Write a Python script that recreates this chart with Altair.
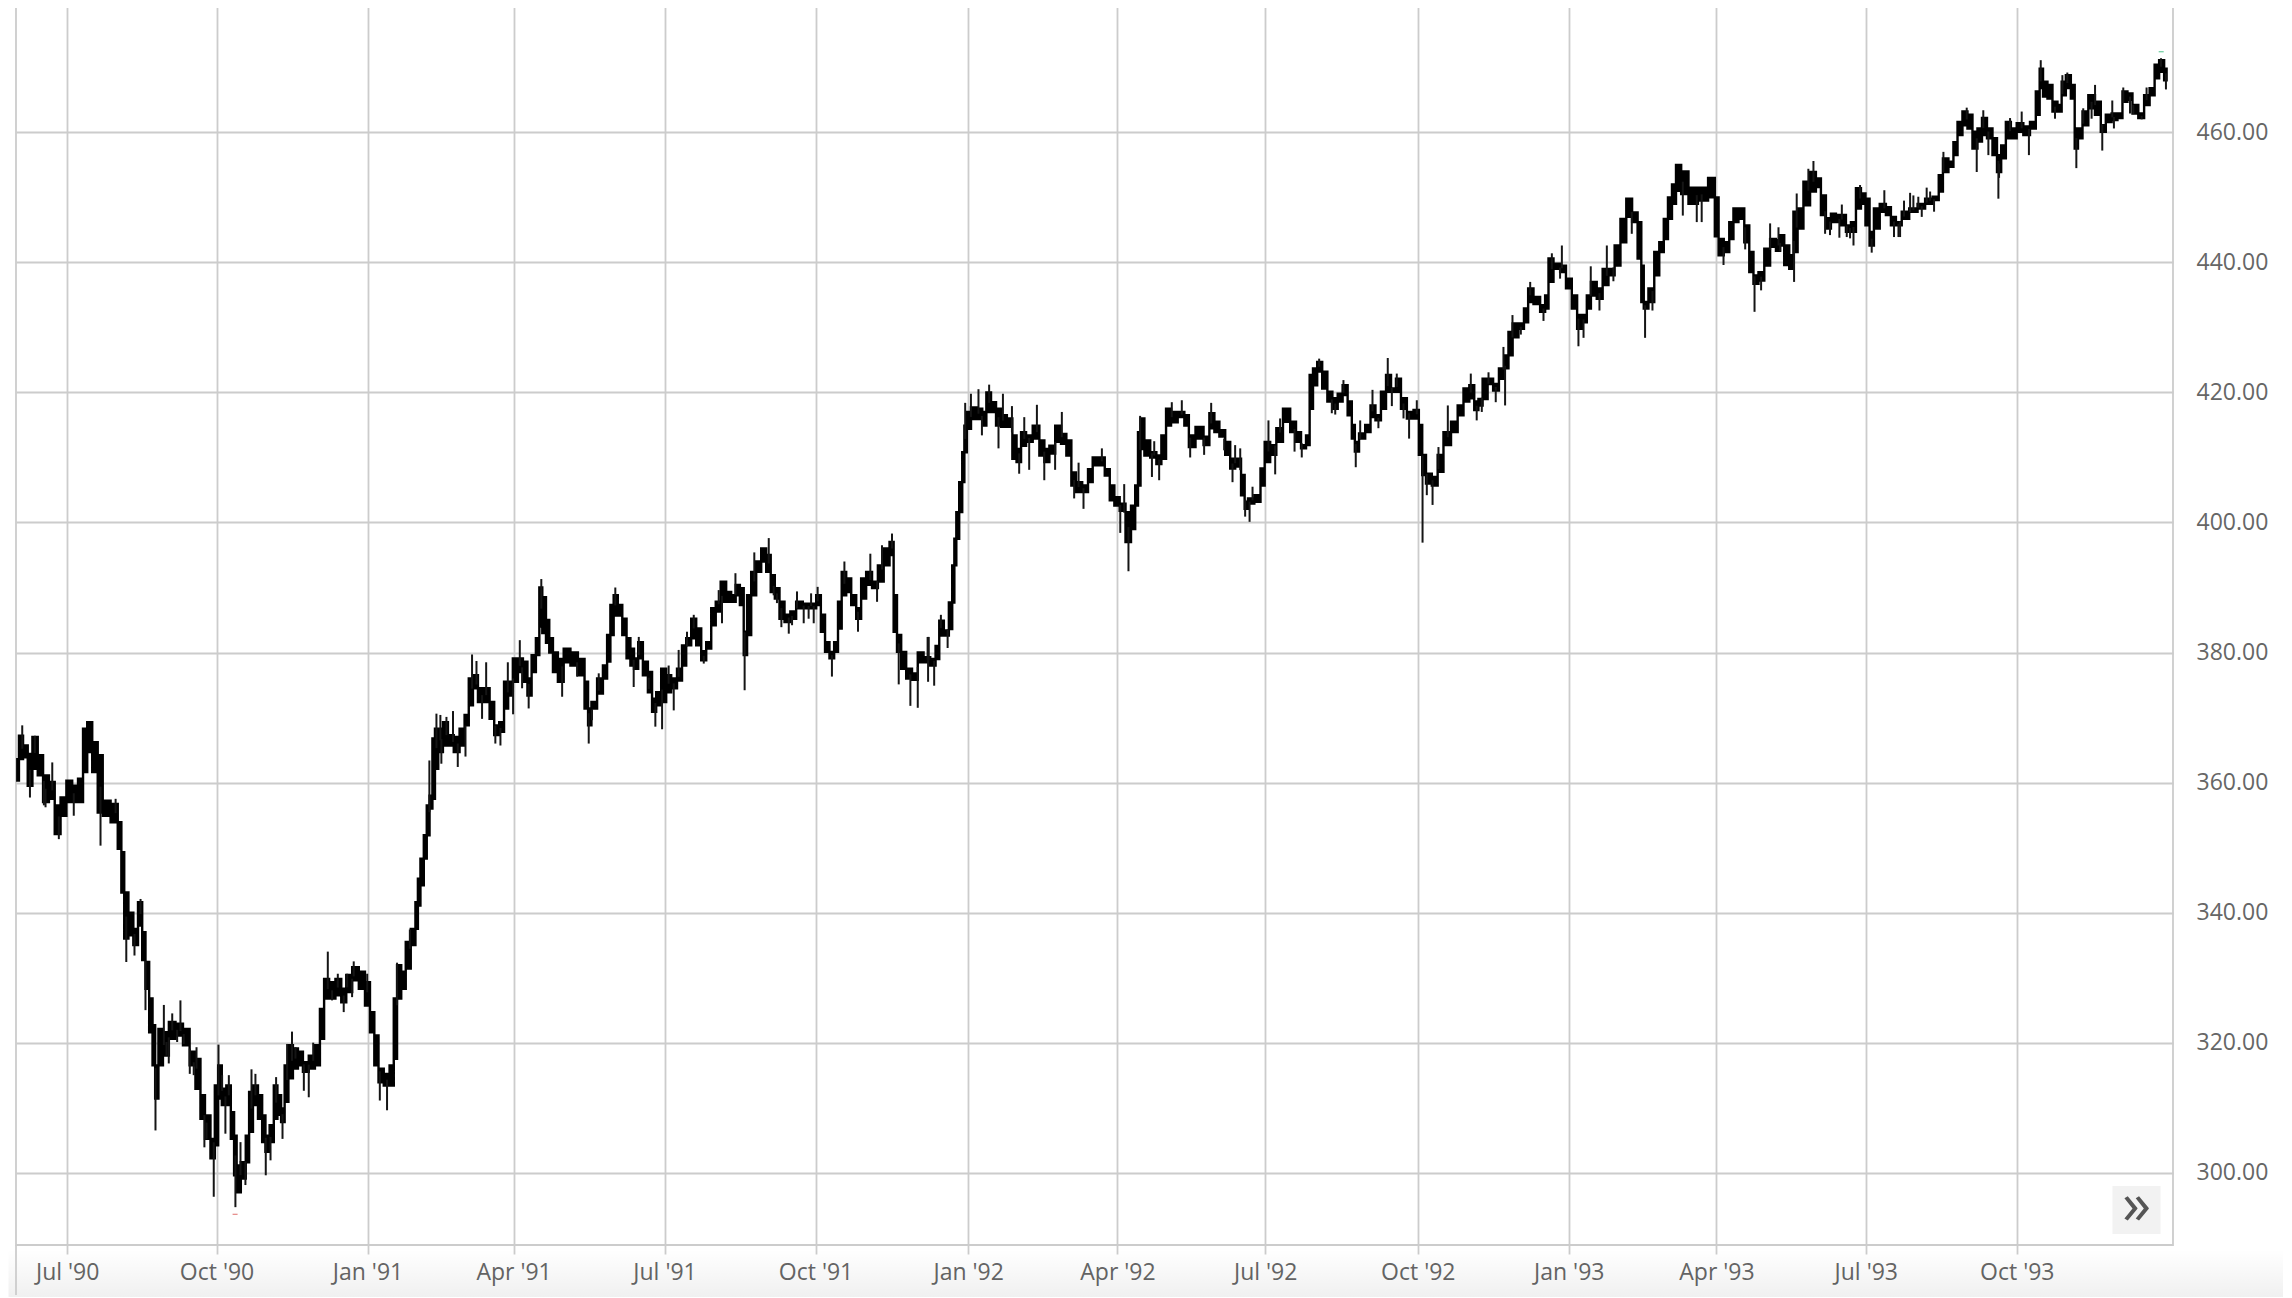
import json

import altair as alt
import numpy as np
import pandas as pd

# x is a trading-position axis (highstock ordinal style), 0 = Jul '90
tick_pos = [0, 91, 183, 272, 364, 456, 549, 640, 730, 823, 915, 1005, 1096, 1188]
tick_labels = ["Jul '90", "Oct '90", "Jan '91", "Apr '91", "Jul '91", "Oct '91", "Jan '92",
               "Apr '92", "Jul '92", "Oct '92", "Jan '93", "Apr '93", "Jul '93", "Oct '93"]
price_ticks = [300, 320, 340, 360, 380, 400, 420, 440, 460]

# solid part of the price band
band_pos = [
    -30.4, -28.4, -25.4, -22.7, -19.7, -16.2, -13.2, -9.1, -6.1, -2,
    1, 5.1, 8.1, 11.2, 13.2, 17.3, 19.9, 23.4, 29.5, 32.1,
    33.9, 35.6, 39, 41.6, 44.7, 46.7, 48.7, 51.2, 52.8, 54.4,
    56.8, 59.9, 64, 68, 73.1, 76.1, 80.2, 82.2, 85.7, 88.9,
    91, 93, 95.4, 98.5, 100.9, 102.5, 104, 107.6, 110, 111.7,
    114.7, 117.8, 119.8, 121.8, 124.9, 126.9, 129.3, 131.4, 133.6, 136,
    139.1, 142.1, 145.2, 149.2, 152.7, 155.3, 157.8, 161.4, 165.5, 168.5,
    171.6, 175.7, 179.7, 183.2, 185.8, 188.5, 190.9, 194.9, 198, 200,
    202, 205.1, 207.5, 211.2, 213.2, 214.2, 216.3, 218.3, 219.9, 221.7,
    223.4, 224.8, 227.4, 230.5, 233.5, 237.6, 240.6, 243.7, 245.7, 248.8,
    251.8, 255.9, 258.9, 261.5, 265, 267.4, 270, 273.1, 276.2, 279.2,
    281.7, 284.3, 286.9, 288.5, 290.5, 293, 294.5, 297.5, 300.5, 304.6,
    308.7, 313.7, 316.8, 318, 320.9,
    324.9, 328, 330, 332, 334, 337, 339.5, 342.2, 344.2, 346.6,
    349.3, 352.3, 355.4, 357.4, 360.4, 363.5, 366.5, 369.6, 373.6, 375.7,
    378.7, 381.8, 384.8, 387.9, 390.9, 394, 396.4, 400, 403.1, 406.1,
    408.6, 411.2, 413.3, 415.3, 418.3, 421.4, 424.4, 427.5, 429.9, 432.5,
    435.6, 438.6, 442.7, 445.7, 450.8, 454.9, 457.9, 460.6, 463, 466,
    468.7, 470.7, 473.2, 476.2, 479.3, 482.3, 485.3, 488.4, 492.5, 495.5,
    499.6, 502.6, 504.6, 506.7, 509.7, 512.8, 516.8,
    519.8, 523.9, 527.9, 530.4, 532.4, 536, 538.5, 540.1, 541.1, 542.5,
    544.6, 546.2, 547.2, 549.2, 552.3, 556.4, 558.8, 561.4, 564.5, 567.5,
    570.6, 574.6, 577.3, 579.7, 582.8, 585.8, 590.9, 593.9, 597, 600,
    604.1, 607.1, 610.6, 613.2, 616.3, 620.7, 623.4, 626.4, 630.5, 634,
    636.6, 639.6, 643.1, 646.7, 649.8, 651.8, 653.2, 654.9, 657.9, 662,
    665.4, 668.1, 671.1, 674.2, 679.2, 682.3, 684.7,
    690.4, 694.5, 697.5, 700.6, 703.6, 707.7, 709.7, 713.8, 716.8, 718.2,
    720.9, 725.9, 728.4, 731, 735.1, 738.5, 743.2, 747.3, 750.3, 753.4,
    756.4, 757.8, 760.5, 762.9, 766.6, 769.2, 772.7, 775.7, 778.7, 781.8,
    783.8, 785.5, 788.9, 793, 795.4, 799, 802.1, 805.2, 808.2, 811.2,
    814.3, 818.4, 822.4, 824.9, 826.5, 829.5, 833.6, 836.6, 840.7, 845.8,
    848.8, 852.9, 855.9, 858.9,
    861, 864, 867.1, 870.7, 874.2, 877.2, 879.3, 882.3, 886.4, 889,
    891.5, 895.5, 899.6, 901.6, 903.7, 907.7, 911.8, 914.8, 918.9, 921.3,
    925, 927, 930, 934.1, 937.2, 941.2, 944.7, 948.3, 951.8, 955.4,
    958.5, 959.9, 961.5, 965.6, 968.6, 971.7, 974.1, 976.8, 979, 981.7,
    985.3, 990.6, 996.8, 1003, 1005, 1007.6, 1011.3, 1014.3, 1016.4, 1020.4,
    1023.5, 1026.5, 1028.6, 1032.6, 1035.7, 1039.7, 1042.8,
    1044.8, 1047.8, 1050.9, 1052.9, 1056, 1060, 1064.1, 1067.1, 1070.2, 1073.2,
    1076.3, 1079.3, 1082.4, 1085.4, 1088.5, 1091.5, 1094.6, 1097, 1099.6, 1102.3,
    1106.7, 1109.8, 1112.8, 1115.9, 1119.9, 1125, 1130.1, 1134.2, 1139.2, 1141.7,
    1144.3, 1148.4, 1150.4,
    1153.4, 1156.4, 1159.5, 1162.5, 1165.6, 1168, 1171.7, 1174.7, 1177.2, 1179.8,
    1182.9, 1185.9, 1190, 1194, 1198.1, 1201.1, 1202.8, 1205.2, 1208.2, 1211.3,
    1214.3, 1216.4, 1219.4, 1222.5, 1224.1, 1226.5, 1229.6, 1233.6, 1237.7, 1240.7,
    1243.8, 1247.8, 1250.9, 1253.9, 1257, 1260, 1264.1, 1267.1, 1270.8, 1273.2,
    1276.3, 1279.3,
]
band_high = [
    363.6, 367.2, 365.7, 364.4, 367.0, 364.2, 361.1, 360.1, 356.5, 357.7,
    360.3, 359.5, 360.6, 368.3, 369.3, 366.2, 364.2, 357.2, 356.7, 353.9,
    349.3, 343.1, 340, 337.5, 341.6, 337, 332.4, 326.8, 322.7, 316.5,
    322.1, 321.6, 323.2, 322.9, 322.1, 318.6, 317.5, 311.9, 308.8, 305.2,
    313.4, 316.5, 312.9, 313.4, 309.3, 305.7, 301.1, 301.6, 305.7, 312.4,
    313.4, 311.9, 308.8, 305.7, 307.3, 313.4, 311.9, 309.9, 316.5, 319.6,
    319.1, 318.6, 317, 318, 319.6, 325.2, 329.8, 329.3, 329.8, 328.3,
    330.4, 331.6, 330.9, 329.3, 324.7, 321.1, 316, 315.2, 316.5, 326.8,
    331.9, 330.9, 335.5, 337.5, 341.6, 345.2, 348.3, 351.9, 356.5, 358,
    366.8, 368.3, 368.3, 369.3, 367.3, 367, 368.3, 370.4, 376, 376.5,
    374.5, 374.5, 372.4, 368.8, 369.3, 375.5, 375.5, 379.1, 379.1, 378.6,
    376, 379.6, 382.2, 390, 388.5, 385, 382.2, 380, 379, 380.6,
    380, 379, 375.5, 371.4, 372.4,
    376, 378, 382.7, 387.3, 388.8, 387.3, 385.2, 382.2, 380.6, 379.1,
    381.6, 378.6, 377, 372.9, 373.9, 377.5, 376.5, 376, 377.5, 381.1,
    382.2, 385.2, 383.7, 380.2, 381.6, 386.8, 387.8, 390.9, 389.3, 388.8,
    390.4, 389.9, 383.2, 388.8, 392.4, 394, 396, 395, 391.9, 389.9,
    387.8, 385.8, 386.3, 387.8, 387.5, 387.5, 388.8, 385.8, 381.6, 380.1,
    381.6, 387.8, 392.4, 391.4, 388.8, 386.8, 391.4, 392.4, 390.9, 393.4,
    396, 397, 388.8, 382.7, 380.1, 377.5, 376.8,
    380, 379.3, 379, 381, 384.9, 383.4, 387.7, 393.4, 397.5, 401.6,
    406.2, 410.8, 414.9, 417, 417.7, 417.5, 417, 420, 418.5, 417.5,
    416.5, 416, 413.4, 411.3, 413.9, 413.4, 414.9, 412.6, 411.3, 411.8,
    414.9, 413.6, 412.6, 407.7, 406.2, 405.7, 408.2, 410, 410, 408.2,
    405.7, 403.9, 402.9, 401.6, 402.6, 405.7, 413.9, 416, 412.6, 410.8,
    410.3, 413.4, 417.5, 417, 417, 416.5, 413.4,
    414.7, 413.2, 416.8, 415.5, 414.2, 412.4, 409.8, 409.8, 407.3, 403.2,
    403.7, 404.2, 408.3, 412.4, 411.9, 414.5, 417.5, 415.5, 413.9, 411.9,
    413.4, 422.7, 423.7, 424.7, 423.2, 420.1, 419.1, 419.8, 421.1, 418.6,
    415, 412.4, 413.7, 415, 418, 416.5, 420.1, 422.7, 420.6, 422.1,
    419.1, 417, 417.3, 415, 410.4, 407.5, 407, 410.4, 413.9, 415.5,
    418, 420.6, 421.1, 418.6,
    419, 422.1, 422.1, 421.3, 423.7, 425.7, 429.3, 430.6, 430.6, 432.9,
    436, 434.7, 433.4, 434.9, 440.6, 439.8, 439.5, 437.5, 434.9, 431.9,
    431.9, 434.9, 437, 436, 439, 439, 442.6, 446.7, 449.8, 447.7,
    446.2, 439.5, 433.9, 436, 441.6, 443.1, 446.7, 450, 452, 455,
    454, 451.5, 451.5, 453, 450, 443.6, 443.1, 446.2, 448.3, 448.3,
    445.7, 441.6, 438, 438.5, 442.1, 443.6, 443.4,
    444.2, 442.6, 441.1, 447.8, 448.3, 452.4, 453.9, 452.9, 450.3, 446.8,
    447.5, 447.3, 447.3, 445.7, 446.2, 451.4, 450.6, 449.8, 444.7, 448.3,
    449, 448.5, 447, 446.2, 447.8, 448.3, 449, 449.8, 450.1, 453.4,
    456, 455.5, 458.5,
    461.6, 463.2, 462.7, 460.1, 460.6, 462.2, 460.6, 459.1, 456.5, 458,
    461.6, 460.6, 461.4, 460.9, 461.6, 466.3, 469.8, 467.8, 467.3, 464.7,
    464.2, 467.8, 468.8, 467.3, 460.6, 460.6, 463.2, 465.7, 464.7, 461.1,
    462.7, 462.9, 462.9, 466.3, 466, 464.2, 462.9, 465.7, 466.8, 470.4,
    471.1, 469.8,
]
band_low = [
    360.3, 363.6, 363.9, 359.5, 362.1, 361.1, 357.0, 357.5, 352.1, 354.9,
    357, 357, 357, 361.6, 364.7, 361.6, 355.4, 354.9, 353.9, 349.8,
    343.1, 336, 336.5, 335, 338, 332.7, 328.3, 321.6, 316.5, 311.4,
    316.5, 318, 320.6, 321.1, 319.6, 316.5, 312.9, 308.3, 305.2, 302.2,
    304.2, 311.4, 310.4, 310.4, 305.2, 299.6, 297, 299.1, 301.6, 306.3,
    310.4, 308.3, 304.7, 303.2, 304.7, 308.3, 308.9, 307.8, 310.9, 314.5,
    316, 316.5, 315.5, 316, 316.5, 320.6, 326.8, 326.8, 327.3, 326.2,
    327.8, 329.6, 328.3, 325.7, 321.6, 316.5, 313.9, 313.4, 313.4, 317.5,
    326.8, 328.3, 331.4, 335, 337.5, 341.1, 344.2, 348.3, 351.9, 356,
    357.5, 362.1, 364.7, 365.7, 365.7, 364.7, 365.7, 368.8, 371.9, 374.5,
    372.4, 372.4, 369.8, 367.3, 367.8, 371.4, 373.4, 375.5, 377, 375.5,
    373.4, 377, 379.6, 384, 383, 381.5, 380, 377, 375.5, 378.5,
    378, 376.5, 371.4, 368.8, 371.4,
    373.7, 376, 378.6, 382.7, 385.7, 385.7, 382.7, 379.1, 378, 377.5,
    379.1, 376.5, 373.9, 370.9, 371.9, 372.4, 373.9, 374.5, 375.7, 378,
    381.1, 382.2, 381.1, 378.8, 380.6, 384.2, 386.3, 387.8, 387.8, 387.8,
    388.8, 387.3, 379.6, 382.7, 388.8, 392.4, 394, 392.4, 389.3, 388.3,
    385.2, 384.7, 385.2, 386.8, 386.8, 386.8, 387.3, 383.2, 380.1, 379.1,
    380.1, 383.7, 388.8, 389.3, 387.3, 385.2, 388.3, 390.4, 389.9, 390.9,
    393.4, 395, 383.2, 380.1, 377.5, 376, 375.8,
    378.5, 378.5, 378, 379, 382.6, 382.6, 383.6, 387.7, 393.4, 397.5,
    401.6, 406.2, 410.8, 414.4, 415.9, 415.9, 414.9, 417, 417, 414.9,
    414.7, 414.7, 409.8, 409.3, 411.8, 412.4, 412.9, 410.3, 409.3, 410.6,
    412.4, 412.1, 410.3, 405.7, 404.7, 404.7, 406.2, 408.8, 408.8, 407.2,
    403.4, 402.6, 401.8, 397, 399, 402.6, 405.7, 411.3, 410.3, 410,
    409, 409.8, 414.9, 415.4, 416.2, 414.9, 411.6,
    412.9, 411.9, 414.5, 413.9, 413.2, 410.4, 408.3, 408.6, 404.2, 402.1,
    402.9, 403.2, 405.7, 409.3, 410.4, 412.4, 415.5, 413.9, 412.4, 411.4,
    411.9, 417.5, 421.1, 423.2, 420.6, 418.6, 417.5, 418.6, 419.6, 416.5,
    412.9, 410.9, 412.9, 413.9, 416.2, 415.7, 417.5, 420.1, 420.1, 420.1,
    417.5, 416, 416, 410.4, 407.3, 406, 405.7, 407.8, 411.9, 413.9,
    416.5, 418.6, 419.1, 417.3,
    418, 419, 421.3, 420.3, 422.1, 423.7, 425.7, 428.5, 429.8, 430.8,
    433.9, 433.6, 432.4, 432.9, 437, 439, 438.5, 436, 432.9, 429.8,
    430.8, 432.9, 434.9, 434.4, 436.5, 438, 439.5, 443.1, 447, 446.2,
    440.6, 433.9, 432.9, 433.9, 438, 441.6, 443.6, 446.7, 449, 451,
    450.5, 449, 449.5, 450, 444, 441.1, 441.6, 443.6, 446.2, 446.7,
    443.1, 438.5, 436.7, 437.2, 439.5, 442.4, 441.8,
    442.6, 439.6, 439, 441.6, 445.2, 448.8, 450.9, 451.6, 447.3, 445.2,
    446.2, 446.2, 445.7, 444.7, 444.7, 448.3, 449, 445.7, 442.6, 445.2,
    447.8, 447.3, 445.7, 445.7, 446.7, 447.8, 448.3, 449, 449.6, 450.9,
    453.9, 454.7, 456.5,
    459.6, 461.1, 460.6, 457.5, 458.6, 459.6, 459.1, 456.5, 453.9, 456,
    459.1, 459.1, 460.1, 459.6, 460.6, 462.7, 466.8, 465.5, 465.2, 463.2,
    463.2, 465.7, 466.8, 465.2, 457.5, 459.1, 461.1, 463.7, 462.7, 460.1,
    461.6, 461.9, 462.2, 464.7, 465, 462.9, 462.2, 464.2, 465.7, 468.3,
    469.3, 468,
]

# the thin wicks that stick out of the band: where, and the price they reach
spike_pos = [
    -27.4, -22.7, -19.7, -13.2, -9.1, -5.1, 4, 20.3, 29.5, 36, 41, 44.7,
    47.7, 53.8, 58.9, 61.9, 69, 77.1, 83.6, 89.3, 92.2, 96.4, 102.5, 108.6, 112.3,
    121, 123.9, 127.3, 131.2, 137, 144.2, 147.2, 149.9, 158.8, 168.5, 174.6,
    190.5, 194.9, 201, 208.8, 220.7, 225, 228, 231.1, 235.1, 238, 242.7, 246.7,
    249.4, 252.8, 255.3, 260.9, 264, 268.5, 271.7, 275.8, 277.2, 281.2, 288.9,
    301.6, 310.7, 317.8, 319.8, 323.9, 334, 345.2, 348.3, 358.4, 362.5, 369.6,
    372.6, 381.8, 387.9, 397, 399, 407.2, 412.8, 418.7, 427.5, 430.5, 435.2,
    439.7, 444.7, 453.3, 454.9, 457.3, 466, 473.6, 481.9, 489.4, 493.5, 496.5,
    502.6, 506.7, 513.8, 518.3, 524.3, 524.6, 528.3, 532.4, 536.5, 547.2, 550.7,
    555.3, 557.4, 561.8, 567.5, 570.2, 575.7, 580.1, 583.2, 586.2, 590.9, 595.4,
    602, 606.1, 613.6, 616.3, 619.3, 630.5, 641.7, 644.1, 646.7, 653.8, 661,
    662.4, 665.4, 673.1, 679.2, 684.3, 692.8, 697.1, 705, 710.1, 714.8, 717.8,
    720.5, 722.3, 732, 736.1, 747.9, 752.3, 762.9, 772.7, 777.7, 785.2, 787.9,
    795.4, 799, 804.7, 807.2, 810.2, 814.3, 817.7, 822.4, 825.9, 828.5, 832,
    835.6, 841.3, 855.3, 858.9, 862, 866.1, 870.5, 875.2, 876.2, 880.7, 885.8,
    891.5, 899.6, 904.7, 909.7, 910.8, 920.9, 924, 928.4, 933.7, 938.2, 942.2,
    953.4, 961.5, 966, 984.5, 993, 996, 1009.3, 1022.5, 1028.2, 1032.2, 1037.7,
    1042.8, 1043.8, 1052.3, 1053.9, 1061, 1064.1, 1071.2, 1074.2, 1079.9, 1081.4,
    1088.5, 1092.5, 1099.6, 1107.3, 1113.2, 1115.9, 1119.3, 1123, 1130.1, 1133.1,
    1137.6, 1143.3, 1163.6, 1167.6, 1170.7, 1176.8, 1177.2, 1183.9, 1191, 1195.4,
    1202.6, 1211.3, 1215.8, 1218.8, 1224.3, 1235.7, 1240.1, 1246.2, 1247.2,
    1252.9, 1259, 1264.1, 1267.1, 1275.9, 1278.9,
    -14.2, 60.5, 64, 67, 71, 74.7, 78.8, 84.9, 94.4, 98.5, 105.6, 114.7, 134,
    139.1, 161.4, 164.9, 170.6, 173.6, 182.8, 227.4, 354.4, 366.5, 377.7, 432.5,
    441.7, 448.8, 451.8, 525, 711.7, 739.1, 770.6, 1084.4, 1086.4, 1116.9, 1125,
    1128, 1135.2, 1157.5, 1228.5, 1233.6, 1257,
]
spike_end = [
    368.8, 357.7, 367.2, 356.2, 363.1, 351.3, 354.9, 350.3, 357.5, 332.4, 333.4, 342.1,
    325, 306.5, 325.8, 316.8, 326.5, 315, 303.9, 296.3, 319.7, 306, 294.7, 298.1, 315.9,
    299.6, 301.9, 314.7, 305.2, 321.7, 312.6, 311.6, 320, 334, 324.7, 332.5,
    311.1, 309.6, 332.3, 337.4, 363.4, 370.6, 362.9, 370.1, 371, 362.4, 364, 379.7,
    378.7, 369.8, 378.5, 366, 365.7, 378.5, 370.5, 381.9, 374.5, 371.4, 391.3,
    373.2, 376.3, 366, 369.6, 376.8, 390, 374.7, 382.4, 368.6, 368.2, 371.1,
    380.4, 385.8, 378.3, 389.6, 384.5, 392.2, 374.2, 395.4, 397.6, 388.8, 383.9,
    382.9, 389.4, 389.1, 384.5, 390.1, 376.3, 394, 383.2, 395.2, 387.8, 396.5,
    398.3, 375.1, 371.8, 371.5, 382.4, 375.5, 374.9, 385.8, 380.7, 418.4, 419.8,
    420.5, 413.4, 421.2, 411.4, 419.8, 417.9, 407.5, 416.2, 408.1, 418.1, 406.5,
    408.1, 417, 403.7, 409.2, 402.1, 411.4, 398.4, 405.9, 392.5, 416.4, 407,
    412.5, 406.5, 418.5, 418.8, 410, 410.4, 418.4, 411.1, 406.2, 411.4, 400.9,
    400.1, 405.5, 415.7, 407.4, 410.9, 410, 425.2, 416.6, 421.9, 408.5, 415.7,
    420.4, 414.5, 425.3, 417.9, 422.9, 416, 412.9, 418.8, 396.9, 404.2, 402.7,
    411.6, 418, 422.9, 415.7, 417, 423.1, 418.5, 427, 418, 431.9, 428.9,
    437, 431, 441.4, 437.5, 442.6, 427.1, 428.4, 439.4, 432.6, 442.6, 437.1,
    444.4, 428.4, 432.6, 447.2, 446.2, 446.2, 439.6, 442, 432.4, 435.7, 446,
    445.4, 441.7, 437, 450.6, 454.4, 455.6, 444.4, 444.2, 443.8, 448.9,
    442.6, 451.9, 441.5, 451.1, 443.9, 443.9, 449.5, 450.7, 447, 451.5,
    447.8, 457, 453.9, 463.4, 456.5, 449.8, 453, 462.2, 463.2, 456.5,
    471.1, 462.1, 468.8, 469.2, 454.5, 467.3, 457.2, 464.9, 460.6,
    466.9, 462.8, 462, 466.9, 471.4, 466.6,
    356.5, 318, 324.5, 320.1, 319.8, 315.2, 319.3, 305.2, 315, 315, 304.7, 315.2, 319.8,
    319.3, 326.5, 330.6, 330.6, 327, 330.6, 370.4, 374.4, 378, 383.2, 387.6,
    384.2, 384.5, 385.2, 382.4, 411.9, 416, 416.8, 443.9, 443.7, 443.9, 450.3,
    450.1, 450.9, 463.8, 463.7, 462.1, 462.9,
]

# the two tiny low / high flags
flag_pos = [102.3, 1276]
flag_price = [293.6, 472.4]
flag_color = ["#d9534f", "#2bb673"]

W, H = 2157, 1238
grid = "#cccccc"
text_col = "#666666"
font = "Open Sans"

band = pd.DataFrame({"pos": band_pos, "high": band_high, "low": band_low})
spikes = pd.DataFrame({"pos": spike_pos, "end": spike_end})
spikes["base"] = np.interp(spikes["pos"], band["pos"], (band["high"] + band["low"]) / 2)
flags = pd.DataFrame({"pos": flag_pos, "price": flag_price, "c": flag_color})

label_map = json.dumps({str(p): l for p, l in zip(tick_pos, tick_labels)})
x_scale = alt.Scale(domain=[-31.2, 1283.2], nice=False, zero=False)
y_scale = alt.Scale(domain=[288.88, 479.28], nice=False, zero=False)

x_axis = alt.Axis(
    values=tick_pos, labelExpr=f"{label_map}[datum.value]", title=None, grid=True,
    gridColor=grid, gridWidth=1.8, domain=False, tickColor=grid, tickWidth=1.8, tickSize=9,
    labelColor=text_col, labelFont=font, labelFontSize=23, labelPadding=7, labelFlush=False,
)
y_axis = alt.Axis(
    values=price_ticks, format=".2f", orient="right", title=None, grid=True,
    gridColor=grid, gridWidth=1.8, domain=False, ticks=False,
    labelColor=text_col, labelFont=font, labelFontSize=23, labelPadding=23,
)

# stepped edges give the band the rough look of packed high-low bars
area = alt.Chart(band).mark_area(
    fill="#000000", stroke="#000000", strokeWidth=2.4, interpolate="step"
).encode(
    x=alt.X("pos:Q", scale=x_scale, axis=x_axis),
    y=alt.Y("low:Q", scale=y_scale, axis=y_axis),
    y2="high:Q",
)
wicks = alt.Chart(spikes).mark_rule(color="#151515", strokeWidth=2).encode(
    x=alt.X("pos:Q", scale=x_scale),
    y=alt.Y("end:Q", scale=y_scale),
    y2="base:Q",
)
flag_marks = alt.Chart(flags).mark_tick(orient="horizontal", thickness=1.2, size=5).encode(
    x=alt.X("pos:Q", scale=x_scale),
    y=alt.Y("price:Q", scale=y_scale),
    color=alt.Color("c:N", scale=None),
)

# page furniture: footer shade, left line carried down, and the >> button
one = pd.DataFrame({"a": [0]})
footer = alt.Chart(one).mark_rect(
    fill=alt.Gradient(
        gradient="linear", x1=0, x2=0, y1=0, y2=1,
        stops=[alt.GradientStop(color="rgba(0,0,0,0)", offset=0),
               alt.GradientStop(color="rgba(0,0,0,0.06)", offset=1)],
    )
).encode(x=alt.value(-7.5), x2=alt.value(W + 110), y=alt.value(H + 4), y2=alt.value(H + 52))
left_line = alt.Chart(one).mark_rule(color=grid, strokeWidth=1.8).encode(
    x=alt.value(0), y=alt.value(H), y2=alt.value(H + 50)
)
button = alt.Chart(one).mark_rect(fill="#f2f2f2").encode(
    x=alt.value(2096.5), x2=alt.value(2144.5), y=alt.value(1179), y2=alt.value(1227)
)
chevrons = alt.Chart(one).mark_text(
    text="\u00bb", font=font, fontSize=58, color="#555555", baseline="middle", align="center"
).encode(x=alt.value(2120.5), y=alt.value(1200))

chart = (
    alt.layer(footer, left_line, button, chevrons, area, wicks, flag_marks)
    .properties(width=W, height=H, padding={"left": 0, "top": -1, "right": 0, "bottom": 0})
    .configure_view(stroke=grid, strokeWidth=1.8)
)

chart.save("out.html", embed_options={"renderer": "svg", "actions": False})
